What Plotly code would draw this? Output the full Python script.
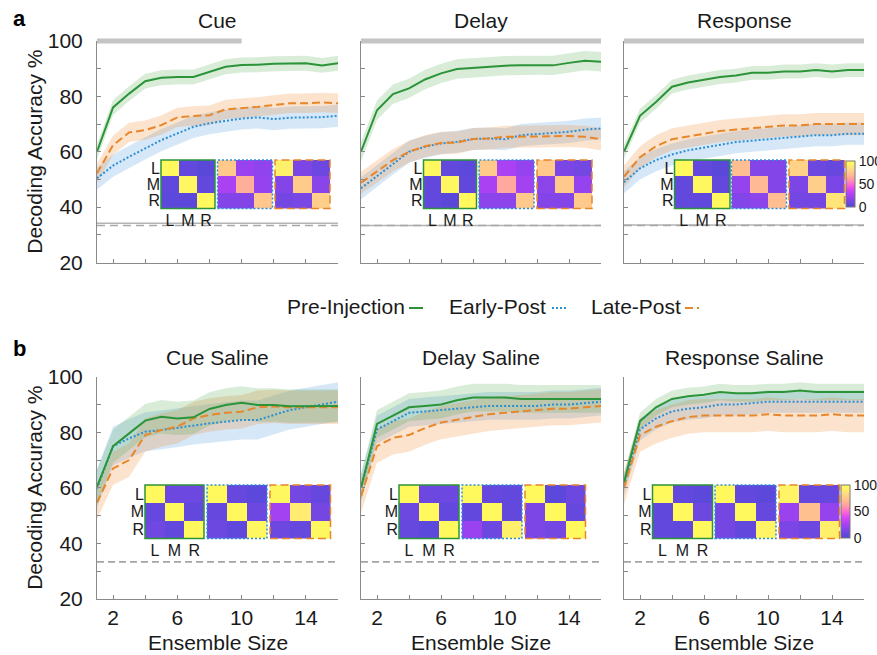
import plotly.graph_objects as go

W, H = 877, 655
FONT = "Liberation Sans, Arial, sans-serif"
TXT = "#1a1a1a"
AXC = "#8a8a8a"

ensemble = list(range(1, 17))
xtick_vals = [2, 4, 6, 8, 10, 12, 14, 16]
xtick_text = ["2", "", "6", "", "10", "", "14", ""]
ytick_vals = [20, 30, 40, 50, 60, 70, 80, 90, 100]
ytick_text = ["20", "", "40", "", "60", "", "80", "", "100"]
state_labels = ["L", "M", "R"]
cbar_ticks = [0, 50, 100]

# ---- mean decoding accuracy (%), muscimol sessions ----
cue_pre   = [60, 76, 81, 85.5, 86.7, 87, 87, 88.9, 90.7, 91.3, 91.4, 91.8, 92, 92, 91.2, 92]
cue_early = [50.4, 55, 58.2, 61.2, 64.2, 66.6, 69, 70.3, 71.2, 72, 72.4, 71.8, 72.3, 72.5, 72.5, 73]
cue_late  = [52.2, 62.4, 67, 67.8, 69.6, 72.4, 72.9, 73.2, 75.3, 75.7, 76.2, 76.9, 77.5, 77.5, 77.8, 77.5]

delay_pre   = [60, 75, 80.8, 82.9, 86.1, 88.3, 89.9, 90.3, 90.7, 91.1, 91.2, 91.3, 91.2, 92.1, 92.9, 92.5]
delay_early = [46.8, 51.2, 55.8, 60, 61.8, 63, 63.6, 64.6, 64.8, 64.5, 66, 66.4, 66.9, 67.2, 68, 68.4]
delay_late  = [48.8, 52.8, 57, 60, 62, 63.2, 63.3, 64.6, 64.8, 65.4, 65.4, 65.4, 65.6, 65.7, 65.4, 64.5]

resp_pre   = [60, 73, 78, 83.5, 85, 86, 87, 87.5, 88.5, 88.5, 89, 89, 89.5, 89, 89.5, 89.5]
resp_early = [49, 54, 57, 59, 60.5, 61.5, 62.5, 63.5, 64, 64.5, 65, 65.5, 66, 66, 66.5, 66.5]
resp_late  = [51, 58, 62, 64.5, 65.5, 66.5, 67.5, 68, 68.5, 69, 69.5, 69.5, 70, 70, 70, 70]

# ---- mean decoding accuracy (%), saline sessions ----
cue_sal_pre   = [60.4, 75, 79.6, 84.2, 85.6, 85, 85.4, 88.4, 89.8, 90.6, 89.8, 89.8, 89.4, 89.5, 89.5, 89.5]
cue_sal_early = [59.8, 75, 77.8, 80.2, 80.8, 81.6, 82.6, 83.2, 83.8, 84.4, 84.4, 86.2, 88, 89, 90, 91]
cue_sal_late  = [54.7, 67, 70, 79, 80.8, 82, 85, 86.2, 87, 87.4, 89, 89.3, 89, 89, 89, 89]

delay_sal_pre   = [60, 83, 86, 89, 89.5, 90, 91.5, 92.5, 92.5, 92.5, 92, 92, 92, 92, 92, 92]
delay_sal_early = [60, 81, 84, 87, 87.5, 88, 88.5, 89, 89.5, 89.5, 89.5, 89.5, 90, 90, 90.5, 91]
delay_sal_late  = [57, 75, 78, 79, 81.5, 83.5, 84.5, 85.5, 86.5, 87, 87.5, 88, 88.5, 88.5, 89, 89.5]

resp_sal_pre   = [62, 84, 89, 92, 93, 93.5, 94.5, 94, 94, 94.5, 94.5, 95, 94.5, 94.5, 94.5, 94.5]
resp_sal_early = [61, 81, 85, 87.5, 88.5, 89, 90, 90, 90.5, 91, 91, 91, 91, 91, 91, 91]
resp_sal_late  = [60, 79, 82, 84, 85.5, 86, 86, 86, 86, 86.5, 86, 86, 86, 86.5, 86, 86]

# ---- shaded-band half widths (pre, early, late) per panel ----
band_cue, band_delay, band_resp = [2.7, 4.0, 3.5], [3.5, 4.0, 4.0], [2.5, 4.0, 4.0]
band_cue_sal, band_delay_sal, band_resp_sal = [6.0, 7.0, 6.0], [5.0, 5.0, 6.0], [3.0, 4.0, 6.0]

# ---- task-period bar end (ensemble axis units) and shuffled / chance levels ----
period_end = [10, 16, 16]
shuffle_level = [34.2, 33.4, 33.5]
chance_level = 100 / 3

# ---- confusion matrices (%), rows = true L/M/R ----
cm_cue   = [[[97, 6, 3], [5, 96, 6], [4, 4, 97]],
            [[76, 22, 19], [26, 66, 20], [16, 16, 75]],
            [[92, 14, 10], [16, 77, 17], [12, 13, 78]]]
cm_delay = [[[96, 6, 4], [6, 96, 5], [6, 3, 97]],
            [[76, 26, 20], [26, 64, 24], [18, 18, 76]],
            [[76, 14, 12], [18, 76, 20], [16, 16, 76]]]
cm_resp  = [[[97, 6, 3], [6, 96, 6], [6, 5, 97]],
            [[71, 16, 16], [20, 69, 16], [16, 18, 71]],
            [[80, 10, 8], [14, 78, 14], [12, 12, 87]]]
cm_cue_sal   = [[[97, 10, 10], [8, 97, 6], [11, 6, 97]],
                [[97, 8, 4], [8, 97, 10], [10, 5, 96]],
                [[96, 12, 8], [24, 90, 12], [10, 8, 96]]]
cm_delay_sal = [[[97, 10, 10], [10, 97, 6], [8, 4, 97]],
                [[97, 8, 6], [6, 97, 6], [22, 10, 92]],
                [[97, 4, 10], [14, 97, 8], [14, 12, 97]]]
cm_resp_sal  = [[[97, 6, 4], [5, 97, 10], [6, 5, 97]],
                [[97, 6, 4], [12, 97, 8], [12, 6, 94]],
                [[94, 8, 8], [22, 72, 20], [14, 10, 92]]]

series_names = ["Pre-Injection", "Early-Post", "Late-Post"]
series_colors = ["#2c9438", "#2b8fd6", "#e8862a"]
series_fill = ["rgba(60,160,60,0.20)", "rgba(70,150,220,0.22)", "rgba(240,140,50,0.24)"]
series_dash = ["solid", "2px,2px", "8px,4px"]

cmap = [[0.0, "#5248d6"], [0.1, "#6c48e0"], [0.2, "#9443ee"], [0.3, "#b840f6"],
        [0.4, "#e04af0"], [0.5, "#ff6ad0"], [0.6, "#ff9aa6"], [0.7, "#ffbc92"],
        [0.8, "#ffd288"], [0.9, "#ffec70"], [1.0, "#ffff55"]]

panels = [
    ("Cue", [cue_pre, cue_early, cue_late], band_cue, cm_cue),
    ("Delay", [delay_pre, delay_early, delay_late], band_delay, cm_delay),
    ("Response", [resp_pre, resp_early, resp_late], band_resp, cm_resp),
    ("Cue Saline", [cue_sal_pre, cue_sal_early, cue_sal_late], band_cue_sal, cm_cue_sal),
    ("Delay Saline", [delay_sal_pre, delay_sal_early, delay_sal_late], band_delay_sal, cm_delay_sal),
    ("Response Saline", [resp_sal_pre, resp_sal_early, resp_sal_late], band_resp_sal, cm_resp_sal),
]

# layout geometry in pixels
col_x = [(97, 338), (361, 601), (624, 864)]
row_y = [(41, 262.5), (376.7, 599)]
title_y = [20, 357]
hm_row_y = [(160, 208.5), (485, 538.5)]
hm_x = [
    [(161, 215), (217.5, 272.5), (275, 330)],
    [(423.5, 476.5), (479, 534), (537, 592)],
    [(674.5, 730), (731.5, 786.5), (789, 844.5)],
    [(145, 204), (207, 267), (270, 330.5)],
    [(399, 459), (462, 522), (525, 585.5)],
    [(652.5, 712.5), (715, 776), (779, 839.5)],
]
cbar_box = [(845.7, 161, 207), (841, 485, 538)]


def fx(p):
    return p / W


def fy(p):
    return 1 - p / H


def ax_id(n):
    return "" if n == 1 else str(n)


fig = go.Figure()
layout = dict(width=W, height=H, margin=dict(l=0, r=0, t=0, b=0, autoexpand=False),
              paper_bgcolor="white", plot_bgcolor="white", showlegend=False,
              font=dict(family=FONT, color=TXT))
shapes, annotations = [], []

for k, (title, means, bands, cms) in enumerate(panels):
    r, c = divmod(k, 3)
    n = ax_id(k + 1)
    xa, ya = f"x{n}", f"y{n}"
    x0p, x1p = col_x[c]
    y0p, y1p = row_y[r]
    layout[f"xaxis{n}"] = dict(
        domain=[fx(x0p), fx(x1p)], range=[1, 16], anchor=ya,
        showline=True, linecolor=AXC, linewidth=1, ticks="inside", ticklen=4,
        tickcolor=AXC, tickvals=xtick_vals, ticktext=xtick_text,
        showticklabels=(r == 1), tickfont=dict(size=21, color=TXT), ticklabelstandoff=0,
        showgrid=False, zeroline=False)
    layout[f"yaxis{n}"] = dict(
        domain=[fy(y1p), fy(y0p)], range=[20, 100], anchor=xa,
        showline=True, linecolor=AXC, linewidth=1, ticks="inside", ticklen=4,
        tickcolor=AXC, tickvals=ytick_vals, ticktext=ytick_text,
        showticklabels=(c == 0), tickfont=dict(size=21, color=TXT), ticklabelstandoff=9,
        showgrid=False, zeroline=False)

    # chance / shuffle reference lines
    if r == 0:
        shapes.append(dict(type="line", xref=xa, yref=ya, x0=1, x1=16,
                           y0=shuffle_level[c], y1=shuffle_level[c],
                           line=dict(color="#b4b4b4", width=1.5), layer="below"))
        shapes.append(dict(type="line", xref=xa, yref=ya, x0=1, x1=16,
                           y0=chance_level, y1=chance_level,
                           line=dict(color="#a8a8a8", width=1.5, dash="8px,5px"), layer="below"))
        shapes.append(dict(type="line", xref=xa, yref=f"{ya} domain", x0=1, x1=period_end[c],
                           y0=1, y1=1, line=dict(color="#c4c4c4", width=5)))
    else:
        shapes.append(dict(type="line", xref=xa, yref=ya, x0=1, x1=16,
                           y0=chance_level, y1=chance_level,
                           line=dict(color="#606060", width=1, dash="7px,4px"), layer="below"))

    # shaded bands then mean lines
    for s in (1, 2, 0):
        m, b = means[s], bands[s]
        upper = [v + b for v in m]
        lower = [v - b for v in m]
        fig.add_trace(go.Scatter(x=ensemble + ensemble[::-1], y=upper + lower[::-1],
                                 fill="toself", fillcolor=series_fill[s],
                                 line=dict(width=0), mode="lines", hoverinfo="skip",
                                 xaxis=xa, yaxis=ya))
    for s in (1, 2, 0):
        fig.add_trace(go.Scatter(x=ensemble, y=means[s], mode="lines", name=series_names[s],
                                 line=dict(color=series_colors[s], width=2, dash=series_dash[s]),
                                 xaxis=xa, yaxis=ya))

    annotations.append(dict(text=title, x=fx((x0p + x1p) / 2), y=fy(title_y[r]),
                            xref="paper", yref="paper", showarrow=False,
                            font=dict(size=21, color=TXT), xanchor="center", yanchor="middle"))

    # confusion-matrix insets
    hy0, hy1 = hm_row_y[r]
    for j in range(3):
        hn = str(10 + k * 3 + j)
        hxa, hya = f"x{hn}", f"y{hn}"
        hx0, hx1 = hm_x[k][j]
        first = (j == 0)
        layout[f"xaxis{hn}"] = dict(domain=[fx(hx0), fx(hx1)], range=[-0.5, 2.5], anchor=hya,
                                    showgrid=False, zeroline=False, showline=False,
                                    tickvals=[0, 1, 2], ticktext=state_labels, ticks="",
                                    showticklabels=first, tickfont=dict(size=16, color=TXT))
        layout[f"yaxis{hn}"] = dict(domain=[fy(hy1), fy(hy0)], range=[2.5, -0.5], anchor=hxa,
                                    showgrid=False, zeroline=False, showline=False,
                                    tickvals=[0, 1, 2], ticktext=state_labels, ticks="",
                                    showticklabels=first, tickfont=dict(size=16, color=TXT))
        show_cb = (c == 2 and j == 2)
        hm = go.Heatmap(z=cms[j], x=[0, 1, 2], y=[0, 1, 2], zmin=0, zmax=100,
                        colorscale=cmap, showscale=show_cb, xaxis=hxa, yaxis=hya,
                        hoverinfo="skip")
        if show_cb:
            cbx, cby0, cby1 = cbar_box[r]
            hm.colorbar = dict(x=fx(cbx), xanchor="left", y=fy((cby0 + cby1) / 2),
                               yanchor="middle", len=cby1 - cby0, lenmode="pixels",
                               thickness=9, thicknessmode="pixels", xpad=0, ypad=0,
                               tickvals=cbar_ticks, ticks="", outlinewidth=1,
                               outlinecolor="#777", tickfont=dict(size=14, color=TXT))
        fig.add_trace(hm)
        shapes.append(dict(type="rect", xref=f"{hxa} domain", yref=f"{hya} domain",
                           x0=0, x1=1, y0=0, y1=1,
                           line=dict(color=series_colors[j], width=1.5, dash=series_dash[j])))

# axis labels
for r in range(2):
    y0p, y1p = row_y[r]
    annotations.append(dict(text="Decoding Accuracy %", x=fx(35), y=fy((y0p + y1p) / 2),
                            xref="paper", yref="paper", showarrow=False, textangle=-90,
                            font=dict(size=21, color=TXT), xanchor="center", yanchor="middle"))
for c in range(3):
    x0p, x1p = col_x[c]
    annotations.append(dict(text="Ensemble Size", x=fx((x0p + x1p) / 2), y=fy(642),
                            xref="paper", yref="paper", showarrow=False,
                            font=dict(size=21, color=TXT), xanchor="center", yanchor="middle"))

# panel letters
for letter, py in (("a", 18), ("b", 348)):
    annotations.append(dict(text=f"<b>{letter}</b>", x=fx(19), y=fy(py), xref="paper", yref="paper",
                            showarrow=False, font=dict(size=22, color="#000"),
                            xanchor="center", yanchor="middle"))

# legend: label followed by a short line sample
legend_pos = [(285, 409, 423), (447, 552, 566), (589, 685, 699)]
for s, (tx, lx0, lx1) in enumerate(legend_pos):
    annotations.append(dict(text=series_names[s], x=fx(tx), y=fy(306), xref="paper", yref="paper",
                            showarrow=False, font=dict(size=21, color=TXT),
                            xanchor="left", yanchor="middle"))
    shapes.append(dict(type="line", xref="paper", yref="paper", x0=fx(lx0), x1=fx(lx1),
                       y0=fy(308), y1=fy(308),
                       line=dict(color=series_colors[s], width=2, dash=series_dash[s])))

layout["shapes"] = shapes
layout["annotations"] = annotations
fig.update_layout(**layout)
fig.write_html("out.html")
